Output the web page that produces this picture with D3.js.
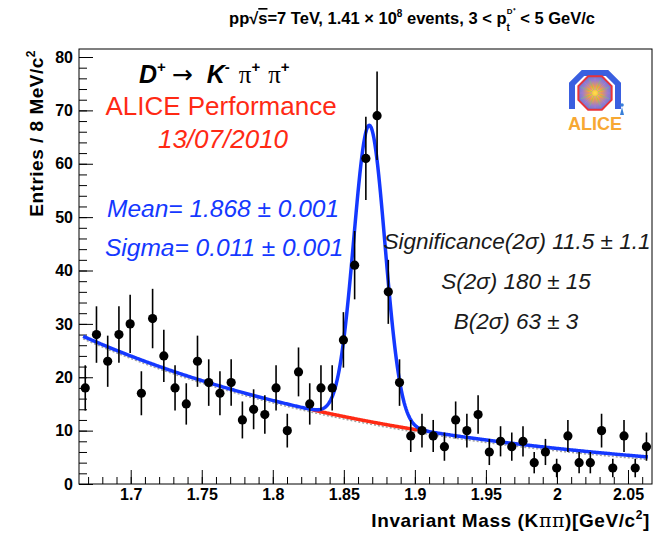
<!DOCTYPE html>
<html>
<head>
<meta charset="utf-8">
<script src="https://cdn.jsdelivr.net/npm/d3@7"></script>
<style>
  body { margin: 0; background: #fff; }
  svg { display: block; }
  text { font-family: "Liberation Sans", Arial, Helvetica, sans-serif; }
</style>
</head>
<body>
<svg id="chart" width="659" height="533"></svg>
<script>
// Kπ π invariant-mass histogram: entries per bin
const counts = [18, 28, 23, 28, 30, 17, 31, 24, 18, 15, 23, 19, 17, 19, 12, 14, 13,
                18, 10, 21, 15, 18, 18, 27, 41, 61, 69, 36, 19, 9, 10, 9, 7, 12, 10,
                13, 6, 8, 7, 8, 4, 6, 3, 9, 4, 4, 10, 3, 9, 3, 7];
const binStart = 1.668;     // centre of the first bin, GeV/c^2
const binWidth = 0.0079;    // GeV/c^2

// Axis ranges and ticks
const massRange = [1.6636, 2.0669];
const entriesRange = [0, 81.5];
const xTickValues = [1.7, 1.75, 1.8, 1.85, 1.9, 1.95, 2.0, 2.05];
const xTickLabels = ["1.7", "1.75", "1.8", "1.85", "1.9", "1.95", "2", "2.05"];
const yTickValues = [0, 10, 20, 30, 40, 50, 60, 70, 80];
const yTickLabels = ["0", "10", "20", "30", "40", "50", "60", "70", "80"];

// Fit: Gaussian signal on an exponential background
const fitMean = 1.868;
const fitSigma = 0.011;
const fitPeak = 55.5;
const bkgRefMass = 1.668;
const bkgAtRef = 27.5;
const bkgSlope = -4.27;
const fitRange = [1.6665, 2.064];
const signalRegion = [1.828, 1.902];

const svg = d3.select("#chart");
const frame = { left: 79, right: 652, top: 49, bottom: 484 };

const x = d3.scaleLinear().domain(massRange).range([frame.left, frame.right]);
const y = d3.scaleLinear().domain(entriesRange).range([frame.bottom, frame.top]);

const bkg = m => bkgAtRef * Math.exp(bkgSlope * (m - bkgRefMass));
const sig = m => fitPeak * Math.exp(-0.5 * Math.pow((m - fitMean) / fitSigma, 2));
const sample = (lo, hi, n) => d3.range(n + 1).map(i => lo + (hi - lo) * i / n);

const BLUE = "#1438ff";
const RED = "#ff2a14";

// ---- frame
svg.append("rect")
  .attr("x", frame.left).attr("y", frame.top)
  .attr("width", frame.right - frame.left).attr("height", frame.bottom - frame.top)
  .attr("fill", "none").attr("stroke", "#000").attr("stroke-width", 1);

// ---- axes (ticks drawn inward)
const fontAxis = "bold 16px 'Liberation Sans', Arial, sans-serif";

const yMajor = d3.axisLeft(y).tickValues(yTickValues)
  .tickFormat((d, i) => yTickLabels[i]).tickSizeInner(-14).tickSizeOuter(0).tickPadding(6);
const yMinor = d3.axisLeft(y).tickValues(d3.range(0, 81, 2))
  .tickFormat("").tickSizeInner(-8).tickSizeOuter(0);
const xMajor = d3.axisBottom(x).tickValues(xTickValues)
  .tickFormat((d, i) => xTickLabels[i]).tickSizeInner(-14).tickSizeOuter(0).tickPadding(5);
const xMinor = d3.axisBottom(x).tickValues(d3.range(1.67, 2.0651, 0.01))
  .tickFormat("").tickSizeInner(-7).tickSizeOuter(0);

function styleAxis(g) {
  g.select(".domain").remove();
  g.selectAll(".tick line").attr("stroke", "#000").attr("stroke-width", 1);
  g.selectAll(".tick text").style("font", fontAxis).attr("fill", "#000");
}
svg.append("g").attr("transform", `translate(${frame.left},0)`).call(yMinor).call(styleAxis);
svg.append("g").attr("transform", `translate(${frame.left},0)`).call(yMajor).call(styleAxis);
svg.append("g").attr("transform", `translate(0,${frame.bottom})`).call(xMinor).call(styleAxis);
svg.append("g").attr("transform", `translate(0,${frame.bottom})`).call(xMajor).call(styleAxis);

// ---- axis titles
const yTitle = svg.append("text")
  .attr("transform", `translate(43,50) rotate(-90)`)
  .attr("text-anchor", "end")
  .style("font", "bold 19px 'Liberation Sans', Arial, sans-serif")
  .style("letter-spacing", "0.5px");
yTitle.append("tspan").text("Entries / 8 MeV/c");
yTitle.append("tspan").attr("dy", -8).style("font-size", "12px").text("2");

const xTitle = svg.append("text")
  .attr("x", 650).attr("y", 527)
  .attr("text-anchor", "end")
  .style("font", "bold 19px 'Liberation Sans', Arial, sans-serif")
  .style("letter-spacing", "0.6px");
xTitle.append("tspan").text("Invariant Mass (K");
xTitle.append("tspan").style("font-family", "'DejaVu Serif', serif").style("font-weight", "normal").text("ππ");
xTitle.append("tspan").text(")[GeV/c");
xTitle.append("tspan").attr("dy", -8).style("font-size", "12px").text("2");
xTitle.append("tspan").attr("dy", 8).text("]");

// ---- title
const title = svg.append("text")
  .attr("x", 412).attr("y", 24)
  .attr("text-anchor", "middle")
  .style("font", "bold 16.5px 'Liberation Sans Narrow', 'Liberation Sans', Arial, sans-serif");
title.append("tspan").text("pp√");
title.append("tspan").style("text-decoration", "overline").text("s");
title.append("tspan").text("=7 TeV, 1.41 × 10");
title.append("tspan").attr("dy", -7).style("font-size", "10px").text("8");
title.append("tspan").attr("dy", 7).text(" events, 3 < p");
title.append("tspan").attr("dy", 7).style("font-size", "10px").text("t");
title.append("tspan").attr("dx", -3).attr("dy", -17).style("font-size", "8px").text("D⁺");
title.append("tspan").attr("dy", 10).text(" < 5 GeV/c");

// ---- fit curves
const line = d3.line().x(d => x(d[0])).y(d => y(d[1]));

svg.append("path")
  .datum(sample(fitRange[0], fitRange[1], 300).map(m => [m, bkg(m)]))
  .attr("d", line)
  .attr("transform", "translate(0,2.5)")
  .attr("fill", "none").attr("stroke", "#a0a0a0")
  .attr("stroke-width", 1.5).attr("stroke-dasharray", "2,2");

svg.append("path")
  .datum(sample(signalRegion[0], signalRegion[1], 120).map(m => [m, bkg(m)]))
  .attr("d", line)
  .attr("fill", "none").attr("stroke", RED).attr("stroke-width", 3.5);

svg.append("path")
  .datum(sample(fitRange[0], fitRange[1], 600).map(m => [m, bkg(m) + sig(m)]))
  .attr("d", line)
  .attr("fill", "none").attr("stroke", BLUE).attr("stroke-width", 3.5)
  .attr("stroke-linejoin", "round");

// ---- data points with Poisson error bars
const points = counts.map((c, i) => ({ m: binStart + i * binWidth, n: c, e: Math.sqrt(c) }));
const pg = svg.append("g");
pg.selectAll("line.err").data(points).join("line")
  .attr("class", "err")
  .attr("x1", d => x(d.m)).attr("x2", d => x(d.m))
  .attr("y1", d => y(d.n - d.e)).attr("y2", d => y(d.n + d.e))
  .attr("stroke", "#000").attr("stroke-width", 1.6);
pg.selectAll("circle").data(points).join("circle")
  .attr("cx", d => x(d.m)).attr("cy", d => y(d.n)).attr("r", 4.6)
  .attr("fill", "#000");

// ---- decay channel label
const decay = svg.append("text").attr("x", 139).attr("y", 83)
  .style("font", "25px 'Liberation Sans', Arial, sans-serif").attr("fill", "#000");
decay.append("tspan").style("font-weight", "bold").style("font-style", "italic").text("D");
decay.append("tspan").attr("dy", -11).style("font-size", "15px").style("font-weight", "bold").text("+");
decay.append("tspan").attr("dx", 6).attr("dy", 11).style("font-family", "'DejaVu Sans', sans-serif").text("→");
decay.append("tspan").attr("dx", 14).style("font-weight", "bold").style("font-style", "italic").text("K");
decay.append("tspan").attr("dy", -11).style("font-size", "15px").style("font-weight", "bold").text("-");
decay.append("tspan").attr("dx", 9).attr("dy", 11).style("font-family", "'Liberation Serif', serif").text("π");
decay.append("tspan").attr("dy", -11).style("font-size", "15px").style("font-weight", "bold").text("+");
decay.append("tspan").attr("dx", 8).attr("dy", 11).style("font-family", "'Liberation Serif', serif").text("π");
decay.append("tspan").attr("dy", -11).style("font-size", "15px").style("font-weight", "bold").text("+");

// ---- performance labels
svg.append("text").attr("x", 221).attr("y", 115).attr("text-anchor", "middle")
  .style("font", "26px 'Liberation Sans', Arial, sans-serif").attr("fill", RED)
  .text("ALICE Performance");
svg.append("text").attr("x", 223).attr("y", 148).attr("text-anchor", "middle")
  .style("font", "italic 26px 'Liberation Sans', Arial, sans-serif").attr("fill", RED)
  .text("13/07/2010");

// ---- fit results
svg.append("text").attr("x", 107).attr("y", 217)
  .style("font", "italic 24.5px 'Liberation Sans', Arial, sans-serif").attr("fill", BLUE)
  .text(`Mean= ${fitMean.toFixed(3)} ± 0.001`);
svg.append("text").attr("x", 105).attr("y", 256)
  .style("font", "italic 24.5px 'Liberation Sans', Arial, sans-serif").attr("fill", BLUE)
  .text(`Sigma= ${fitSigma.toFixed(3)} ± 0.001`);

const statFont = "italic 22.5px 'Liberation Sans', Arial, sans-serif";
svg.append("text").attr("x", 517).attr("y", 249).attr("text-anchor", "middle")
  .style("font", statFont).attr("fill", "#1a1a1a").text("Significance(2σ) 11.5 ± 1.1");
svg.append("text").attr("x", 516).attr("y", 289).attr("text-anchor", "middle")
  .style("font", statFont).attr("fill", "#1a1a1a").text("S(2σ) 180 ± 15");
svg.append("text").attr("x", 516).attr("y", 329).attr("text-anchor", "middle")
  .style("font", statFont).attr("fill", "#1a1a1a").text("B(2σ) 63 ± 3");

// ---- experiment logo
const logo = svg.append("g").attr("transform", "translate(595,93)");
const defs = svg.append("defs");
const rg = defs.append("radialGradient").attr("id", "core");
rg.append("stop").attr("offset", "0%").attr("stop-color", "#ffe14a");
rg.append("stop").attr("offset", "40%").attr("stop-color", "#f4a040");
rg.append("stop").attr("offset", "75%").attr("stop-color", "#9c7fc8");
rg.append("stop").attr("offset", "100%").attr("stop-color", "#6f79d8");
logo.append("path")
  .attr("d", "M-23,16 L-23,-9 L-12,-20 L12,-20 L23,-9 L23,16")
  .attr("fill", "none").attr("stroke", "#3a5fe0").attr("stroke-width", 6)
  .attr("stroke-linejoin", "miter");
const oct = d3.range(8).map(k => {
  const a = Math.PI / 8 + k * Math.PI / 4;
  return [18 * Math.cos(a), 18 * Math.sin(a)];
});
logo.append("polygon").attr("points", oct.map(p => p.join(",")).join(" "))
  .attr("fill", "url(#core)").attr("stroke", "#e8333a").attr("stroke-width", 2);
d3.range(16).forEach(k => {
  const a = k * Math.PI / 8;
  logo.append("line")
    .attr("x1", 3 * Math.cos(a)).attr("y1", 3 * Math.sin(a))
    .attr("x2", 15 * Math.cos(a)).attr("y2", 15 * Math.sin(a))
    .attr("stroke", k % 2 ? "#7ccf6a" : "#b07ad8").attr("stroke-width", 0.7).attr("opacity", 0.8);
});
logo.append("circle").attr("cx", 27).attr("cy", 12).attr("r", 1.8).attr("fill", "#3a7fd8");
logo.append("path").attr("d", "M25,22 L27,14 L29,22 Z").attr("fill", "#3a7fd8");
logo.append("text").attr("x", 0).attr("y", 37).attr("text-anchor", "middle")
  .style("font", "bold 18px 'Liberation Sans', Arial, sans-serif").attr("fill", "#f7a833")
  .text("ALICE");
</script>
</body>
</html>
